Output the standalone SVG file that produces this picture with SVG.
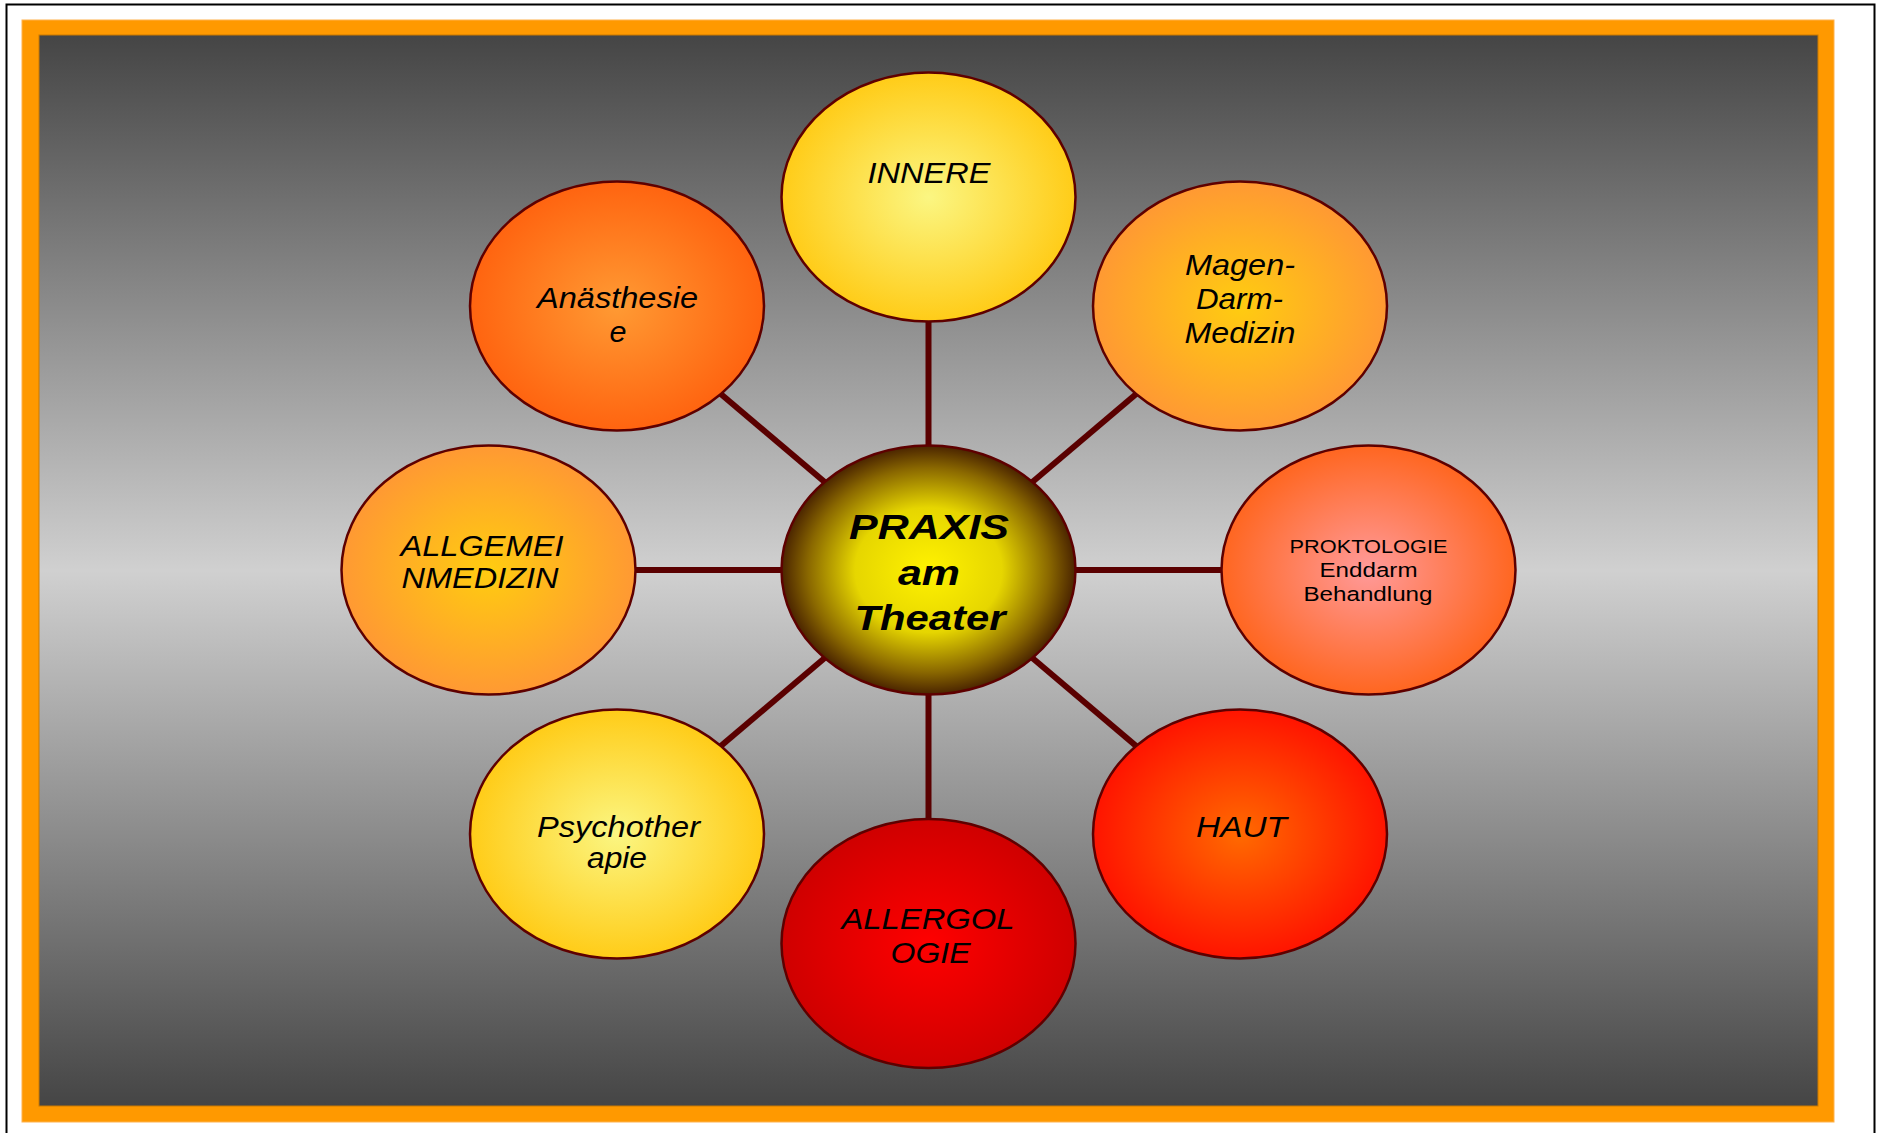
<svg xmlns="http://www.w3.org/2000/svg" width="1878" height="1133" viewBox="0 0 1878 1133">
  <defs>
    <linearGradient id="bg" x1="0" y1="0" x2="0" y2="1">
      <stop offset="0" stop-color="#454545"/>
      <stop offset="0.5" stop-color="#d0d0d0"/>
      <stop offset="1" stop-color="#454545"/>
    </linearGradient>
    <radialGradient id="gHub" cx="0.5" cy="0.5" r="0.5">
      <stop offset="0" stop-color="#fff200"/>
      <stop offset="0.5" stop-color="#e6d600"/>
      <stop offset="0.82" stop-color="#8a6800"/>
      <stop offset="1" stop-color="#4a2400"/>
    </radialGradient>
    <radialGradient id="gPale" cx="0.5" cy="0.5" r="0.5">
      <stop offset="0" stop-color="#fbf682"/>
      <stop offset="1" stop-color="#ffcc18"/>
    </radialGradient>
    <radialGradient id="gGold" cx="0.5" cy="0.5" r="0.5">
      <stop offset="0" stop-color="#ffcc10"/>
      <stop offset="1" stop-color="#ff9933"/>
    </radialGradient>
    <radialGradient id="gOrange" cx="0.5" cy="0.5" r="0.5">
      <stop offset="0" stop-color="#ff9a33"/>
      <stop offset="1" stop-color="#ff6410"/>
    </radialGradient>
    <radialGradient id="gPink" cx="0.5" cy="0.5" r="0.5">
      <stop offset="0" stop-color="#ff9a9a"/>
      <stop offset="1" stop-color="#ff6620"/>
    </radialGradient>
    <radialGradient id="gFire" cx="0.5" cy="0.5" r="0.5">
      <stop offset="0" stop-color="#ff6a00"/>
      <stop offset="1" stop-color="#ff1400"/>
    </radialGradient>
    <radialGradient id="gRed" cx="0.5" cy="0.5" r="0.5">
      <stop offset="0" stop-color="#ff0000"/>
      <stop offset="1" stop-color="#cf0000"/>
    </radialGradient>
  </defs>
  <style>
    .node ellipse { stroke: #5e0000; stroke-width: 2.5; }
    .lbl { font-family: "Liberation Sans", Arial, sans-serif; font-style: italic; font-size: 29px; fill: #000; text-anchor: middle; }
    .hub { font-family: "Liberation Sans", Arial, sans-serif; font-style: italic; font-weight: bold; font-size: 35px; fill: #000; text-anchor: middle; }
    .plain { font-family: "Liberation Sans", Arial, sans-serif; font-size: 20.5px; fill: #000; text-anchor: middle; }
    .link { stroke: #5a0000; stroke-width: 6; }
  </style>

  <!-- page frame -->
  <rect x="0" y="0" width="1878" height="1133" fill="#ffffff"/>
  <path d="M6.5,1133 V4.5 H1874.5 V1133" fill="none" stroke="#000" stroke-width="2"/>
  <rect x="22" y="20" width="1812" height="1102" fill="#ff9900" stroke="#ffb24d" stroke-width="1"/>
  <rect x="39" y="35" width="1779" height="1071" fill="url(#bg)" stroke="#cc7a00" stroke-width="1"/>

  <!-- spokes from hub to each field -->
  <g id="connectors">
    <line class="link" x1="928.5" y1="570" x2="928.5" y2="197"/>
    <line class="link" x1="928.5" y1="570" x2="928.5" y2="943.5"/>
    <line class="link" x1="928.5" y1="570" x2="488.5" y2="570"/>
    <line class="link" x1="928.5" y1="570" x2="1368.5" y2="570"/>
    <line class="link" x1="928.5" y1="570" x2="617" y2="306"/>
    <line class="link" x1="928.5" y1="570" x2="1240" y2="306"/>
    <line class="link" x1="928.5" y1="570" x2="617" y2="834"/>
    <line class="link" x1="928.5" y1="570" x2="1240" y2="834"/>
  </g>

  <g id="hub" class="node">
    <ellipse cx="928.5" cy="570" rx="147" ry="124.5" fill="url(#gHub)"/>
    <text class="hub" x="929" y="539" textLength="160" lengthAdjust="spacingAndGlyphs">PRAXIS</text>
    <text class="hub" x="929" y="585" textLength="62" lengthAdjust="spacingAndGlyphs">am</text>
    <text class="hub" x="930" y="630" textLength="151" lengthAdjust="spacingAndGlyphs">Theater</text>
  </g>

  <g id="innere" class="node">
    <ellipse cx="928.5" cy="197" rx="147" ry="124.5" fill="url(#gPale)"/>
    <text class="lbl" x="929" y="183" textLength="123" lengthAdjust="spacingAndGlyphs">INNERE</text>
  </g>

  <g id="magen-darm" class="node">
    <ellipse cx="1240" cy="306" rx="147" ry="124.5" fill="url(#gGold)"/>
    <text class="lbl" x="1240" y="275" textLength="110" lengthAdjust="spacingAndGlyphs">Magen-</text>
    <text class="lbl" x="1239.5" y="309" textLength="87" lengthAdjust="spacingAndGlyphs">Darm-</text>
    <text class="lbl" x="1240" y="343" textLength="111" lengthAdjust="spacingAndGlyphs">Medizin</text>
  </g>

  <g id="proktologie" class="node">
    <ellipse cx="1368.5" cy="570" rx="147" ry="124.5" fill="url(#gPink)"/>
    <text class="plain" x="1368.5" y="553" style="font-size:18px" textLength="158" lengthAdjust="spacingAndGlyphs">PROKTOLOGIE</text>
    <text class="plain" x="1368.5" y="577" textLength="98" lengthAdjust="spacingAndGlyphs">Enddarm</text>
    <text class="plain" x="1368" y="601" textLength="129" lengthAdjust="spacingAndGlyphs">Behandlung</text>
  </g>

  <g id="haut" class="node">
    <ellipse cx="1240" cy="834" rx="147" ry="124.5" fill="url(#gFire)"/>
    <text class="lbl" x="1241.5" y="837" textLength="91" lengthAdjust="spacingAndGlyphs">HAUT</text>
  </g>

  <g id="allergologie" class="node">
    <ellipse cx="928.5" cy="943.5" rx="147" ry="124.5" fill="url(#gRed)"/>
    <text class="lbl" x="928" y="929" textLength="173" lengthAdjust="spacingAndGlyphs">ALLERGOL</text>
    <text class="lbl" x="930.5" y="963" textLength="80" lengthAdjust="spacingAndGlyphs">OGIE</text>
  </g>

  <g id="psychotherapie" class="node">
    <ellipse cx="617" cy="834" rx="147" ry="124.5" fill="url(#gPale)"/>
    <text class="lbl" x="618.5" y="837" textLength="163" lengthAdjust="spacingAndGlyphs">Psychother</text>
    <text class="lbl" x="617" y="868" textLength="60" lengthAdjust="spacingAndGlyphs">apie</text>
  </g>

  <g id="allgemeinmedizin" class="node">
    <ellipse cx="488.5" cy="570" rx="147" ry="124.5" fill="url(#gGold)"/>
    <text class="lbl" x="482" y="556" textLength="163" lengthAdjust="spacingAndGlyphs">ALLGEMEI</text>
    <text class="lbl" x="480" y="588" textLength="157" lengthAdjust="spacingAndGlyphs">NMEDIZIN</text>
  </g>

  <g id="anaesthesie" class="node">
    <ellipse cx="617" cy="306" rx="147" ry="124.5" fill="url(#gOrange)"/>
    <text class="lbl" x="617.5" y="308" textLength="161" lengthAdjust="spacingAndGlyphs">Anästhesie</text>
    <text class="lbl" x="618" y="342" textLength="17" lengthAdjust="spacingAndGlyphs">e</text>
  </g>
</svg>
